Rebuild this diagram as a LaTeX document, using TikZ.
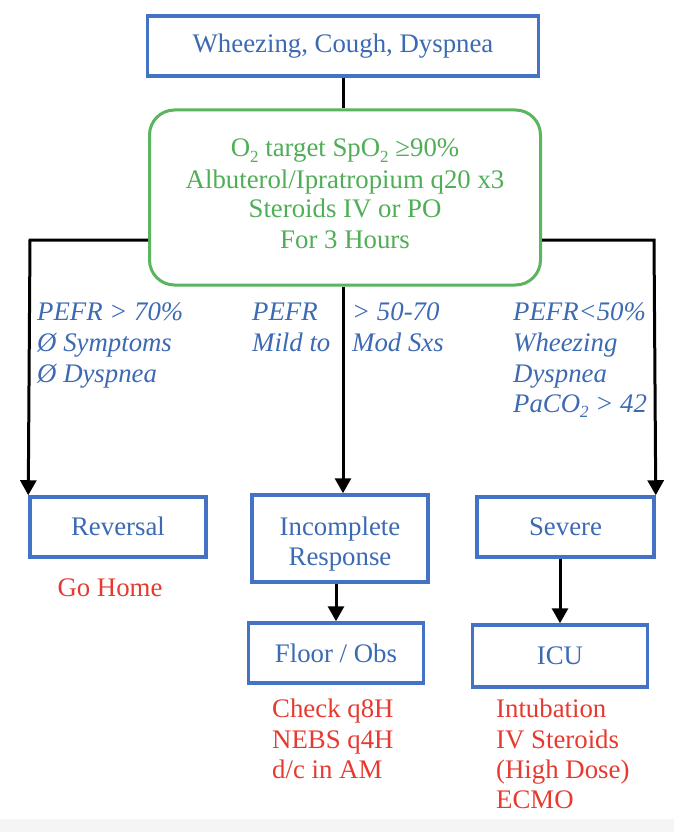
\documentclass[tikz,border=0pt]{standalone}
\usepackage{fontspec}
\setmainfont{Liberation Serif}
\usetikzlibrary{arrows.meta}
\definecolor{bline}{HTML}{4472C4}
\definecolor{btext}{HTML}{3C6AB3}
\definecolor{gline}{HTML}{5BB45E}
\definecolor{gtext}{HTML}{4FAE56}
\definecolor{rtext}{HTML}{E63A30}
\newcommand\subtwo{\raisebox{-0.22em}{\fontsize{17}{17}\selectfont 2}}
\tikzset{
  bbox/.style={draw=bline, line width=3.5pt, text=btext, inner sep=0pt, align=center,
    font=\fontsize{26.8}{30.5}\selectfont},
  gbox/.style={draw=gline, line width=3pt, rounded corners=25pt, text=gtext, inner sep=0pt},
  lab/.style={anchor=base west, inner sep=0pt, text=btext, font=\fontsize{26.8}{30.5}\selectfont\itshape},
  gtxt/.style={anchor=base, inner sep=0pt, text=gtext, font=\fontsize{26.8}{30.5}\selectfont},
  rtxt/.style={anchor=base west, inner sep=0pt, text=rtext, font=\fontsize{26.8}{30.5}\selectfont},
  conn/.style={line width=3pt, black},
  arr/.style={conn, -{Triangle[length=15pt,width=16pt]}},
}
\begin{document}
\begin{tikzpicture}[x=1pt,y=-1pt]
\useasboundingbox (0,0) rectangle (674,832);
\fill[white] (0,0) rectangle (674,832);
\fill[black!4] (0,819) rectangle (674,832);
% boxes
\node[bbox, minimum width=391pt, minimum height=60pt] (top) at (343,46) {};
\node[gbox, minimum width=391pt, minimum height=175pt] (green) at (345,197.5) {};
\node[bbox, minimum width=176pt, minimum height=60pt] (rev) at (118,527) {};
\node[bbox, minimum width=176pt, minimum height=87pt] (inc) at (340,538.5) {};
\node[bbox, minimum width=177pt, minimum height=60pt] (sev) at (565.5,527) {};
\node[bbox, minimum width=175pt, minimum height=60pt] (floor) at (336,653) {};
\node[bbox, minimum width=175pt, minimum height=62pt] (icu) at (560,656) {};
% box texts
\node[gtxt, text=btext] (tTop) at (343,53) {Wheezing, Cough, Dyspnea};
\node[gtxt] (g1) at (345,157) {O\subtwo{} target SpO\subtwo{} ≥90\%};
\node[gtxt] (g2) at (345,188) {Albuterol/Ipratropium q20 x3};
\node[gtxt] (g3) at (345,217) {Steroids IV or PO};
\node[gtxt] (g4) at (345,248) {For 3 Hours};
\node[gtxt, text=btext] (tRev) at (118,535) {Reversal};
\node[gtxt, text=btext] (tInc1) at (340,535) {Incomplete};
\node[gtxt, text=btext] (tInc2) at (340,565) {Response};
\node[gtxt, text=btext] (tSev) at (565.5,535) {Severe};
\node[gtxt, text=btext] (tFloor) at (336,662) {Floor / Obs};
\node[gtxt, text=btext] (tIcu) at (560,664) {ICU};
% connectors
\coordinate (lturn) at (30,240);
\coordinate (rturn) at (654,240);
\draw[conn] (top.south) -- (top.south |- green.north);
\draw[arr] (green.west |- lturn) -- (lturn) -- (rev.north west);
\draw[arr] (green.east |- rturn) -- (rturn) -- (sev.north east);
\draw[arr] (green.south -| top.south) -- (top.south |- inc.north);
\draw[arr] (floor.north |- inc.south) -- (floor.north);
\draw[arr] (icu.north |- sev.south) -- (icu.north);
% branch labels
\node[lab] (l1) at (37,320) {PEFR > 70\%};
\node[lab] (l2) at (37,351) {Ø Symptoms};
\node[lab] (l3) at (37,382) {Ø Dyspnea};
\node[lab] (m1) at (252,320) {PEFR};
\node[lab] (m2) at (252,351) {Mild to};
\node[lab] (m3) at (352,320) {> 50-70};
\node[lab] (m4) at (352,351) {Mod Sxs};
\node[lab] (r1) at (513,320) {PEFR<50\%};
\node[lab] (r2) at (513,351) {Wheezing};
\node[lab] (r3) at (513,382) {Dyspnea};
\node[lab] (r4) at (513,412) {PaCO\subtwo{} > 42};
% red notes
\node[rtxt, anchor=base] (home) at (110,596) {Go Home};
\node[rtxt] (f1) at (272,717) {Check q8H};
\node[rtxt] (f2) at (272,748) {NEBS q4H};
\node[rtxt] (f3) at (272,778) {d/c in AM};
\node[rtxt] (i1) at (496,717) {Intubation};
\node[rtxt] (i2) at (496,748) {IV Steroids};
\node[rtxt] (i3) at (496,778) {(High Dose)};
\node[rtxt] (i4) at (496,808) {ECMO};
\end{tikzpicture}
\end{document}
